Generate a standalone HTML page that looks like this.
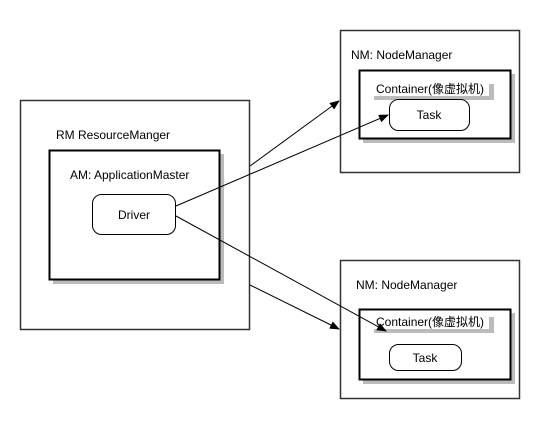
<!DOCTYPE html>
<html><head><meta charset="utf-8"><style>
body{margin:0;background:#fff;}
text{font-family:"Liberation Sans","Noto Sans CJK SC",sans-serif;font-size:12px;fill:#000;}
</style></head><body>
<svg width="540" height="420" viewBox="0 0 540 420" xmlns="http://www.w3.org/2000/svg">
<defs><marker id="a" markerWidth="10" markerHeight="8" refX="9" refY="4" orient="auto" markerUnits="userSpaceOnUse"><path d="M0,0 L10,4 L0,8 Z" fill="#000"/></marker></defs>
<!-- RM -->
<rect x="20.5" y="100.5" width="229" height="229" fill="#fff" stroke="#333" stroke-width="1.5"/>
<text x="56" y="139">RM ResourceManger</text>
<rect x="53" y="154" width="171" height="130" fill="#bbb"/>
<rect x="49.5" y="150.5" width="170" height="129" fill="#fff" stroke="#000" stroke-width="2"/>
<text x="70" y="179">AM: ApplicationMaster</text>
<rect x="92.5" y="194.5" width="83" height="40" rx="9" fill="#fff" stroke="#000" stroke-width="1"/>
<text x="134" y="219" text-anchor="middle">Driver</text>
<!-- NM top -->
<rect x="340.5" y="30.5" width="179" height="142" fill="#fff" stroke="#333" stroke-width="1.5"/>
<text x="351" y="59">NM: NodeManager</text>
<rect x="363" y="74" width="152" height="69" fill="#bbb"/>
<rect x="359.5" y="70.5" width="151" height="68" fill="#fff" stroke="#000" stroke-width="2"/>
<rect x="374" y="84" width="120" height="16" fill="#bbb"/>
<rect x="374" y="80" width="115" height="16" fill="#fff"/>
<text x="376" y="93">Container(像虚拟机)</text>
<rect x="389.5" y="99.5" width="80" height="31" rx="9" fill="#fff" stroke="#000" stroke-width="1"/>
<text x="429" y="119" text-anchor="middle">Task</text>
<!-- NM bottom -->
<rect x="340.5" y="260.5" width="179" height="138" fill="#fff" stroke="#333" stroke-width="1.5"/>
<text x="356" y="289">NM: NodeManager</text>
<rect x="363" y="313" width="152" height="71" fill="#bbb"/>
<rect x="359.5" y="309.5" width="151" height="70" fill="#fff" stroke="#000" stroke-width="2"/>
<rect x="374" y="317" width="120" height="16" fill="#bbb"/>
<rect x="374" y="313" width="115" height="16" fill="#fff"/>
<text x="376" y="326">Container(像虚拟机)</text>
<rect x="389.5" y="344.5" width="72" height="26" rx="9" fill="#fff" stroke="#000" stroke-width="1"/>
<text x="425" y="362" text-anchor="middle">Task</text>
<!-- arrows -->
<line x1="250" y1="166" x2="339" y2="101" stroke="#000" stroke-width="1" marker-end="url(#a)"/>
<line x1="176" y1="206" x2="388" y2="115" stroke="#000" stroke-width="1" marker-end="url(#a)"/>
<line x1="176" y1="216" x2="386" y2="331" stroke="#000" stroke-width="1" marker-end="url(#a)"/>
<line x1="250" y1="285" x2="339" y2="329" stroke="#000" stroke-width="1" marker-end="url(#a)"/>
</svg>
</body></html>
